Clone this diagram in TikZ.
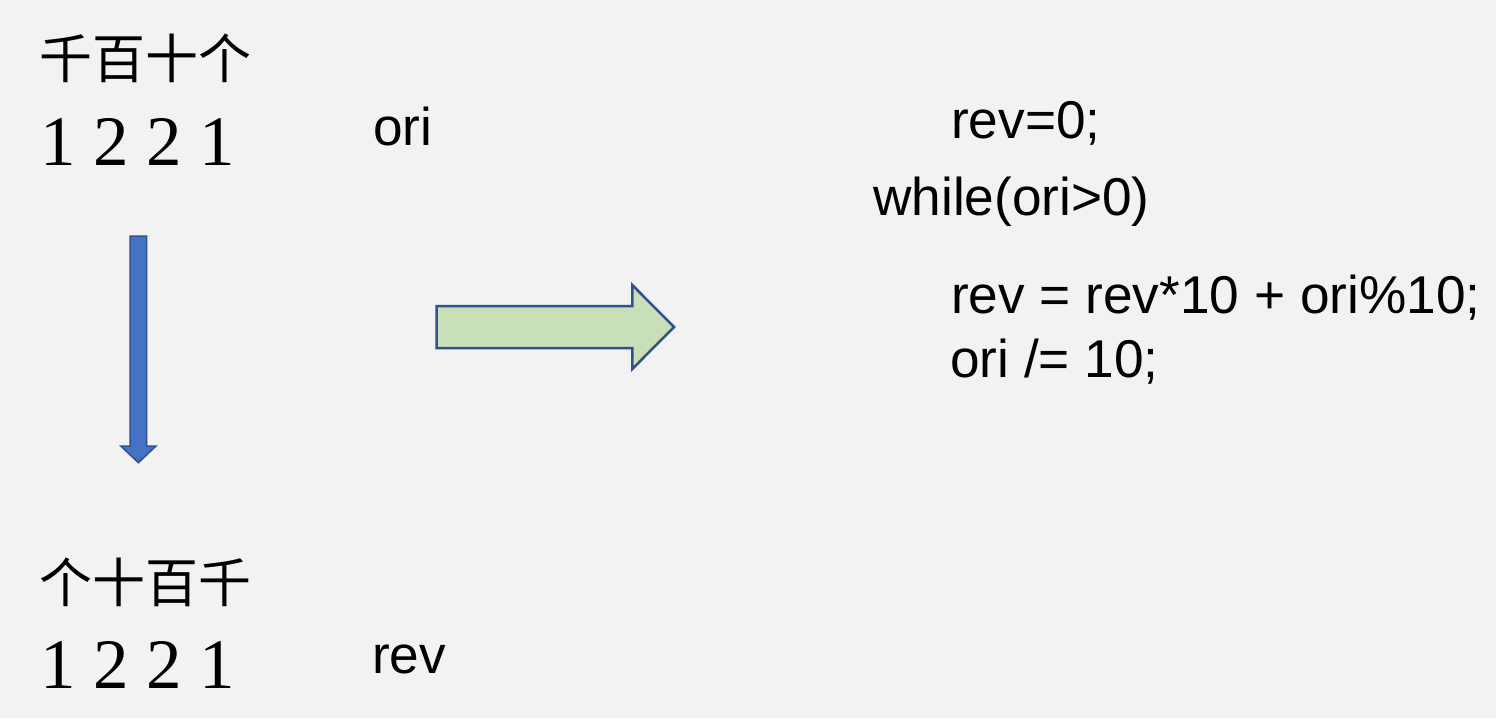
\documentclass[tikz,border=0pt]{standalone}
\usepackage{fontspec}
\newfontfamily\arialf{Liberation Sans}
\newfontfamily\serifnum{Liberation Serif}
\newfontfamily\cjk{Noto Sans CJK SC}
\definecolor{bgc}{HTML}{F2F2F2}
\definecolor{bluefill}{HTML}{4472C4}
\definecolor{blueline}{HTML}{2F528F}
\definecolor{greenfill}{HTML}{C8DFB8}
\tikzset{
  cjklabel/.style={anchor=base west, inner sep=0pt, font=\cjk\fontsize{53}{60}\selectfont},
  digits/.style={anchor=base west, inner sep=0pt, font=\serifnum\fontsize{71}{80}\selectfont},
  codetext/.style={anchor=base west, inner sep=0pt, font=\arialf\fontsize{53.2}{60}\selectfont},
  bluearrow/.style={fill=bluefill, draw=blueline, line width=1.5pt, line join=miter},
  greenarrow/.style={fill=greenfill, draw=blueline, line width=2.5pt, line join=miter}
}
\begin{document}
\begin{tikzpicture}[x=1pt,y=-1pt]
\fill[bgc] (0,0) rectangle (1496,718);
\useasboundingbox (0,0) rectangle (1496,718);
% left column
\node[cjklabel] (toplab) at (39,78) {千百十个};
\node[digits] (topnum) at (40,165) {1 2 2 1};
\node[codetext] (ori) at (373,145) {ori};
\node[cjklabel] (botlab) at (39,602) {个十百千};
\node[digits] (botnum) at (40,688) {1 2 2 1};
\node[codetext] (rev) at (372,673) {rev};
% down arrow
\draw[bluearrow] (130,236) -- (146.7,236) -- (146.7,446) -- (156,446) -- (138.4,462.7) -- (120.8,446) -- (130,446) -- cycle;
% right arrow
\draw[greenarrow] (436.7,306) -- (632.3,306) -- (632.3,285) -- (674,327) -- (632.3,369) -- (632.3,348) -- (436.7,348) -- cycle;
% code
\node[codetext] (l1) at (951,138) {rev=0;};
\node[codetext] (l2) at (873,215) {while(ori>0)};
\node[codetext] (l3) at (951,313) {rev = rev*10 + ori\%10;};
\node[codetext] (l4) at (950,377) {ori /= 10;};
\end{tikzpicture}
\end{document}
